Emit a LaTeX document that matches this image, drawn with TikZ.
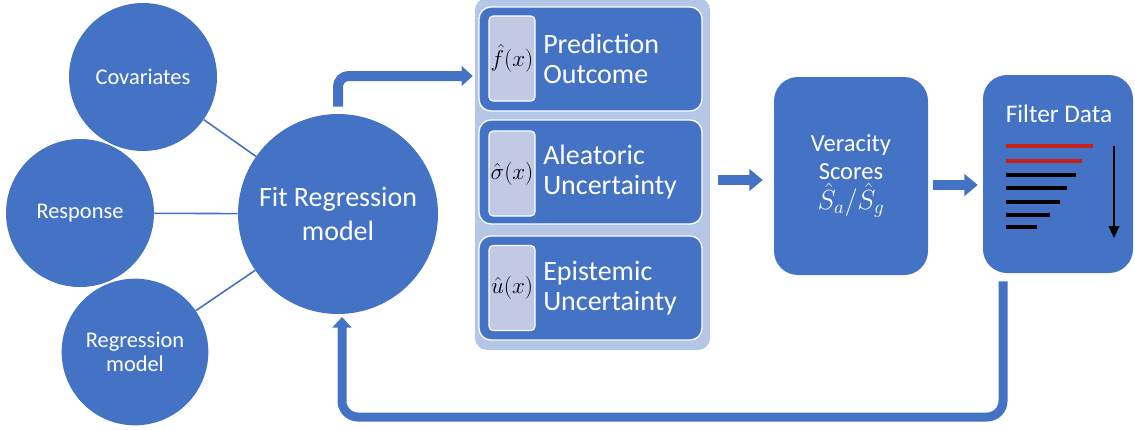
\documentclass[tikz,border=0pt]{standalone}
\usepackage{fontspec}
\setmainfont{Carlito}
\usetikzlibrary{arrows.meta,calc}
\definecolor{dblue}{RGB}{68,114,196}
\definecolor{lblue}{RGB}{180,199,231}
\definecolor{innerc}{RGB}{194,201,228}
\definecolor{dred}{RGB}{197,35,25}
\begin{document}
\begin{tikzpicture}[x=0.75pt,y=-0.75pt,
  circ/.style={circle,fill=dblue,text=white,inner sep=0pt,align=center,font=\fontsize{16.8}{17.5}\selectfont},
  link/.style={draw=dblue,line width=1.2pt},
  pbox/.style={fill=dblue,draw=white,line width=1pt,rounded corners=9pt,minimum width=167.25pt,minimum height=78pt},
  ibox/.style={fill=innerc,draw=white,line width=0.8pt,rounded corners=3pt,minimum width=34.5pt,minimum height=63.75pt,inner sep=0pt,text=black,font=\fontsize{16.5}{17}\selectfont},
  btext/.style={text=white,align=left,font=\fontsize{21}{23}\selectfont,inner sep=2.25pt,anchor=west},
  bigbox/.style={fill=dblue,rounded corners=18pt,minimum height=148.5pt,text=white,align=center},
  flow/.style={draw=dblue,line width=7.5pt,-{Triangle[length=8.25pt,width=14.5pt]}},
  flowb/.style={draw=dblue,line width=7pt,-{Triangle[length=10pt,width=16pt]}},
  fb/.style={draw=dblue,line width=6.75pt,rounded corners=12pt,-{Triangle[length=8pt,width=14pt]}},
  bar/.style={line width=2.6pt}]
\useasboundingbox (0,0) rectangle (1135,429);

% left circles
\node[circ,minimum size=111pt] (cov) at (143,77) {Covariates};
\node[circ,minimum size=111pt] (resp) at (80,213) {Response};
\node[circ,minimum size=110pt] (reg) at (135,352) {Regression\\model};
\node[circ,minimum size=150pt,font=\fontsize{21}{25}\selectfont] (fit) at (338,214) {Fit Regression\\model};
\draw[link] (cov) -- (fit);
\draw[link] (resp) -- (fit);
\draw[link] (reg) -- (fit);

% container with three panels
\node[fill=lblue,rounded corners=9pt,minimum width=176.25pt,minimum height=264pt] (cont) at (592.5,174) {};
\node[pbox] (b1) at (590.5,59) {};
\node[pbox] (b2) at (590.5,172) {};
\node[pbox] (b3) at (590.5,288) {};
\node[ibox] (i1) at (512,58.5) {$\hat{f}(x)$};
\node[ibox] (i2) at (512,173.5) {$\hat{\sigma}(x)$};
\node[ibox] (i3) at (512,288) {$\hat{u}(x)$};
\node[btext] (t1) at (540,59) {Prediction\\Outcome};
\node[btext] (t2) at (540,172) {Aleatoric\\Uncertainty};
\node[btext] (t3) at (540,288) {Epistemic\\Uncertainty};

% veracity
\node[bigbox,minimum width=115.5pt,font=\fontsize{18.4}{21}\selectfont] (ver) at (851,176)
  {Veracity\\Scores\\[1pt]{\fontsize{20}{20}\selectfont$\hat{S}_a/\hat{S}_g$}};

% filter
\node[bigbox,minimum width=112.5pt] (filt) at (1058,174) {};
\node[text=white,font=\fontsize{19}{20}\selectfont] (ftitle) at (1059,114) {Filter Data};
\draw[bar,draw=dred] (1006,146) -- (1093,146);
\draw[bar,draw=dred] (1006,161) -- (1082,161);
\draw[bar] (1006,175) -- (1076,175);
\draw[bar] (1006,188) -- (1067,188);
\draw[bar] (1006,202) -- (1060,202);
\draw[bar] (1006,215) -- (1050,215);
\draw[bar] (1006,227) -- (1037,227);
\draw[line width=1.5pt,-{Triangle[length=9pt,width=8pt]}] (1114,146) -- (1114,238);

% connectors
\coordinate (tarr) at (0,76);
\coordinate (a1) at (0,180);
\coordinate (a2) at (0,185);
\coordinate (fbx) at (1003,0);
\coordinate (fbl) at (342,0);
\draw[flow,rounded corners=8pt,shorten >=1.5pt] ([yshift=5.25pt]fit.north) -- (fit.north |- tarr) -- (cont.west |- tarr);
\draw[flowb,shorten <=6pt,shorten >=8.25pt] (cont.east |- a1) -- (ver.west |- a1);
\draw[flowb,shorten <=3.75pt,shorten >=3.75pt] (ver.east |- a2) -- (filt.west |- a2);
\draw[fb,shorten <=6pt,shorten >=2pt] (filt.south -| fbx) -- (1003,417) -- (342,417) -- (fit.south -| fbl);
\end{tikzpicture}
\end{document}
